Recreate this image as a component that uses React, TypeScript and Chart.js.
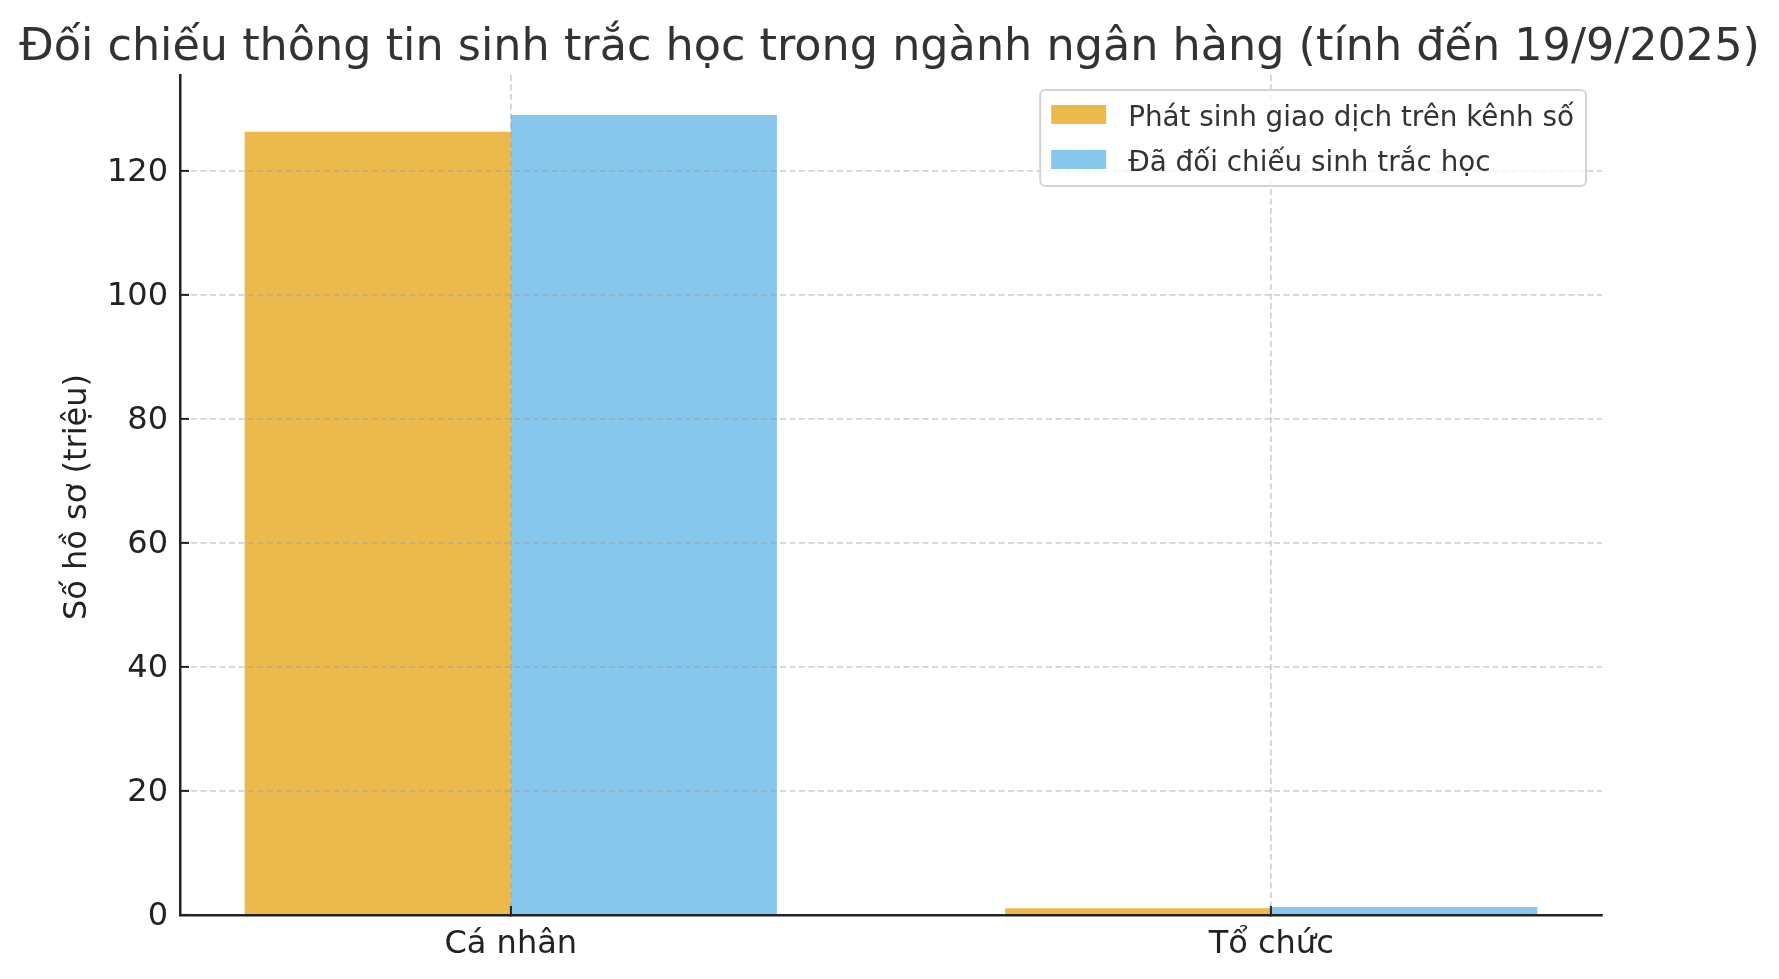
import React, { useEffect, useRef } from 'react';
import { Chart, registerables } from 'chart.js';

Chart.register(...registerables);

const chartTitle = 'Đối chiếu thông tin sinh trắc học trong ngành ngân hàng (tính đến 19/9/2025)';
const yAxisTitle = 'Số hồ sơ (triệu)';
const categories = ['Cá nhân', 'Tổ chức'];
const seriesNames = ['Phát sinh giao dịch trên kênh số', 'Đã đối chiếu sinh trắc học'];
const transactedValues = [126.3, 1.1];
const verifiedValues = [129.0, 1.3];
const yTicks = [0, 20, 40, 60, 80, 100, 120];

const FONT = "'DejaVu Sans', sans-serif";

// title, y title and the boxed legend (matplotlib style), drawn on the canvas
const decorPlugin = {
  id: 'decor',
  afterDraw(chart: any) {
    const { ctx, chartArea } = chart;
    ctx.save();

    ctx.fillStyle = '#333333';
    ctx.font = `44.5px ${FONT}`;
    ctx.textAlign = 'center';
    ctx.textBaseline = 'alphabetic';
    ctx.fillText(chartTitle, chart.width / 2, 59.5);

    ctx.save();
    ctx.translate(86, (chartArea.top + chartArea.bottom) / 2 + 2);
    ctx.rotate(-Math.PI / 2);
    ctx.fillStyle = '#222222';
    ctx.font = `32px ${FONT}`;
    ctx.textAlign = 'center';
    ctx.fillText(yAxisTitle, 0, 0);
    ctx.restore();

    // legend
    ctx.font = `27.8px ${FONT}`;
    const datasets = chart.data.datasets;
    let maxW = 0;
    datasets.forEach((ds: any) => {
      maxW = Math.max(maxW, ctx.measureText(ds.label).width);
    });
    const right = chartArea.right - 16;
    const top = chartArea.top + 15;
    const width = 11 + 55 + 22 + maxW + 12;
    const height = 96;
    const left = right - width;
    ctx.beginPath();
    ctx.roundRect(left, top, width, height, 5);
    ctx.fillStyle = 'rgba(255,255,255,0.8)';
    ctx.fill();
    ctx.lineWidth = 2;
    ctx.strokeStyle = '#d4d4d4';
    ctx.stroke();
    datasets.forEach((ds: any, i: number) => {
      const sy = top + 15 + i * 45;
      ctx.fillStyle = ds.backgroundColor;
      ctx.fillRect(left + 11, sy, 55, 19);
      ctx.fillStyle = '#333333';
      ctx.textAlign = 'left';
      ctx.fillText(ds.label, left + 11 + 55 + 22, sy + 21);
    });
    ctx.restore();
  },
};

const gridOpts = {
  z: 1,
  color: 'rgba(150,150,150,0.42)',
  lineWidth: 1.8,
  tickLength: -9,
  tickColor: '#222222',
  tickWidth: 2,
};

const App: React.FC = () => {
  const canvasRef = useRef<HTMLCanvasElement>(null);
  const chartRef = useRef<Chart | null>(null);

  useEffect(() => {
    document.body.style.margin = '0';
    if (!canvasRef.current) return;
    if (chartRef.current) chartRef.current.destroy();

    chartRef.current = new Chart(canvasRef.current, {
      type: 'bar',
      data: {
        datasets: [
          {
            label: seriesNames[0],
            data: categories.map((_, i) => ({ x: i, y: transactedValues[i] })),
            backgroundColor: '#ECBA4C',
            borderWidth: 0,
          },
          {
            label: seriesNames[1],
            data: categories.map((_, i) => ({ x: i, y: verifiedValues[i] })),
            backgroundColor: '#89C8EE',
            borderWidth: 0,
          },
        ],
      },
      options: {
        animation: false,
        responsive: true,
        maintainAspectRatio: false,
        layout: { padding: { top: 75, right: 177, left: 0, bottom: 0 } },
        datasets: { bar: { categoryPercentage: 0.7, barPercentage: 1.0 } },
        plugins: {
          legend: { display: false },
          title: { display: false },
          tooltip: { enabled: false },
        },
        scales: {
          x: {
            type: 'linear',
            min: -0.435,
            max: 1.435,
            offset: false,
            afterBuildTicks: (scale: any) => {
              scale.ticks = categories.map((_, i) => ({ value: i }));
            },
            afterFit: (scale: any) => {
              scale.height = 64;
            },
            ticks: {
              z: 1,
              callback: (v: any) => categories[v] ?? '',
              color: '#222222',
              font: { family: FONT, size: 32 },
              padding: 19,
              maxRotation: 0,
              autoSkip: false,
            },
            grid: { ...gridOpts, offset: false },
            border: { display: true, z: 2, color: '#222222', width: 2.5, dash: [6, 3.5] },
          },
          y: {
            type: 'linear',
            min: 0,
            max: 135.45,
            afterBuildTicks: (scale: any) => {
              scale.ticks = yTicks.map((v) => ({ value: v }));
            },
            afterFit: (scale: any) => {
              scale.width = 180;
            },
            ticks: {
              z: 1,
              color: '#222222',
              font: { family: FONT, size: 32 },
              padding: 21,
              labelOffset: 2,
            },
            grid: { ...gridOpts },
            border: { display: true, z: 2, color: '#222222', width: 2.5, dash: [6, 3.5] },
          },
        },
      },
      plugins: [decorPlugin],
    } as any);

    return () => {
      if (chartRef.current) {
        chartRef.current.destroy();
        chartRef.current = null;
      }
    };
  }, []);

  return (
    <div style={{ position: 'fixed', left: 0, top: 0, width: 1779, height: 979, background: '#ffffff' }}>
      <canvas ref={canvasRef}></canvas>
    </div>
  );
};

export default App;
